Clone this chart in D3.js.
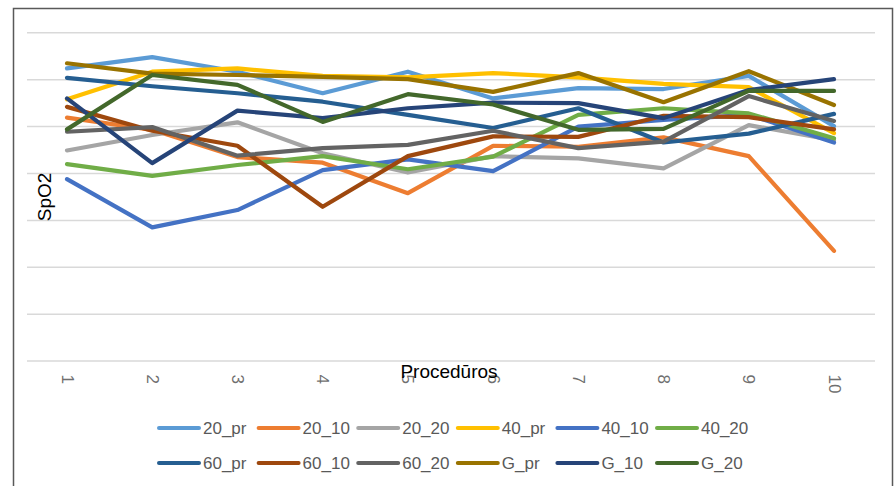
<!DOCTYPE html>
<html>
<head>
<meta charset="utf-8">
<script src="https://cdn.jsdelivr.net/npm/d3@7/dist/d3.min.js"></script>
<style>
  html, body { margin: 0; padding: 0; background: #fff; }
  svg { display: block; }
</style>
</head>
<body>
<svg id="chart" width="894" height="486"></svg>
<script>
// Procedure numbers on the horizontal axis
const procedures = ["1", "2", "3", "4", "5", "6", "7", "8", "9", "10"];

// SpO2 readings per group
const s20_pr = [99.23, 99.47, 99.16, 98.70, 99.16, 98.59, 98.81, 98.79, 99.07, 98.00];
const s20_10 = [98.18, 97.92, 97.34, 97.22, 96.57, 97.58, 97.56, 97.76, 97.36, 95.34];
const s20_20 = [97.48, 97.81, 98.08, 97.42, 97.01, 97.36, 97.31, 97.10, 98.02, 97.70];
const s40_pr = [98.57, 99.16, 99.23, 99.07, 99.04, 99.13, 99.04, 98.90, 98.83, 97.85];
const s40_10 = [96.87, 95.84, 96.21, 97.06, 97.29, 97.04, 97.99, 98.13, 98.24, 97.65];
const s40_20 = [97.19, 96.94, 97.17, 97.36, 97.08, 97.35, 98.24, 98.38, 98.27, 97.74];
const s60_pr = [99.03, 98.85, 98.70, 98.52, 98.24, 97.96, 98.38, 97.65, 97.84, 98.26];
const s60_10 = [98.41, 97.90, 97.58, 96.28, 97.36, 97.78, 97.77, 98.22, 98.19, 97.93];
const s60_20 = [97.88, 97.98, 97.37, 97.53, 97.60, 97.90, 97.53, 97.67, 98.64, 98.11];
const sG_pr  = [99.34, 99.12, 99.09, 99.05, 99.00, 98.73, 99.13, 98.51, 99.17, 98.45];
const sG_10  = [98.59, 97.21, 98.33, 98.17, 98.38, 98.50, 98.49, 98.17, 98.77, 99.00];
const sG_20  = [97.93, 99.09, 98.88, 98.09, 98.68, 98.46, 97.92, 97.94, 98.75, 98.75];

const seriesNames = ["20_pr", "20_10", "20_20", "40_pr", "40_10", "40_20",
                     "60_pr", "60_10", "60_20", "G_pr", "G_10", "G_20"];
const seriesValues = [s20_pr, s20_10, s20_20, s40_pr, s40_10, s40_20,
                      s60_pr, s60_10, s60_20, sG_pr, sG_10, sG_20];
const seriesColors = ["#5B9BD5", "#ED7D31", "#A5A5A5", "#FFC000", "#4472C4", "#70AD47",
                      "#255E91", "#9E480E", "#636363", "#997300", "#264478", "#43682B"];

// Value axis gridlines (unlabelled)
const yTicks = [93, 94, 95, 96, 97, 98, 99, 100];

const svg = d3.select("#chart");
const font = "'Liberation Sans', Arial, sans-serif";

// Chart frame
svg.append("rect")
  .attr("x", 13.5).attr("y", 8.5)
  .attr("width", 879).attr("height", 500)
  .attr("fill", "none")
  .attr("stroke", "#595959")
  .attr("stroke-width", 1.5);

const plot = { left: 27, right: 875, top: 32.3, bottom: 360.6 };

const x = d3.scalePoint()
  .domain(procedures)
  .range([67, 834]);

const y = d3.scaleLinear()
  .domain([93, 100])
  .range([plot.bottom, plot.top]);

// Horizontal gridlines
const grid = svg.append("g")
  .attr("transform", `translate(${plot.left},0)`)
  .call(d3.axisLeft(y).tickValues(yTicks)
    .tickSize(-(plot.right - plot.left)).tickFormat(""));
grid.select(".domain").remove();
grid.selectAll(".tick line")
  .attr("stroke", "#D9D9D9")
  .attr("stroke-width", 1.5);

// Category axis labels, rotated
const xAxis = svg.append("g")
  .attr("transform", `translate(0,${plot.bottom + 14})`)
  .call(d3.axisBottom(x).tickSize(0).tickPadding(0));
xAxis.select(".domain").remove();
xAxis.selectAll(".tick text")
  .attr("transform", "rotate(90)")
  .attr("text-anchor", "start")
  .attr("x", 0)
  .attr("y", 0)
  .attr("dy", "0.35em")
  .attr("fill", "#6f6f6f")
  .style("font-family", font)
  .style("font-size", "17px");

// Lines
const line = d3.line()
  .x((d, i) => x(procedures[i]))
  .y(d => y(d));

svg.append("g")
  .selectAll("path")
  .data(seriesValues)
  .join("path")
  .attr("d", d => line(d))
  .attr("fill", "none")
  .attr("stroke", (d, i) => seriesColors[i])
  .attr("stroke-width", 4.2)
  .attr("stroke-linecap", "round")
  .attr("stroke-linejoin", "round");

// Axis titles
svg.append("text")
  .attr("x", 449)
  .attr("y", 378)
  .attr("text-anchor", "middle")
  .attr("fill", "#000")
  .style("font-family", font)
  .style("font-size", "19px")
  .text("Procedūros");

svg.append("text")
  .attr("transform", "translate(51,197) rotate(-90)")
  .attr("text-anchor", "middle")
  .attr("fill", "#000")
  .style("font-family", font)
  .style("font-size", "19px")
  .text("SpO2");

// Legend: two rows of six
const legend = svg.append("g");
const legendItems = legend.selectAll("g")
  .data(seriesNames)
  .join("g")
  .attr("transform", (d, i) => {
    const col = i % 6, row = Math.floor(i / 6);
    return `translate(${157 + col * 99.6},${428 + row * 35})`;
  });
legendItems.append("line")
  .attr("x1", 2).attr("x2", 42)
  .attr("y1", 0).attr("y2", 0)
  .attr("stroke", (d, i) => seriesColors[i])
  .attr("stroke-width", 4)
  .attr("stroke-linecap", "round");
legendItems.append("text")
  .attr("x", 46)
  .attr("y", 0)
  .attr("dy", "0.35em")
  .attr("fill", "#595959")
  .style("font-family", font)
  .style("font-size", "17px")
  .text(d => d);
</script>
</body>
</html>
